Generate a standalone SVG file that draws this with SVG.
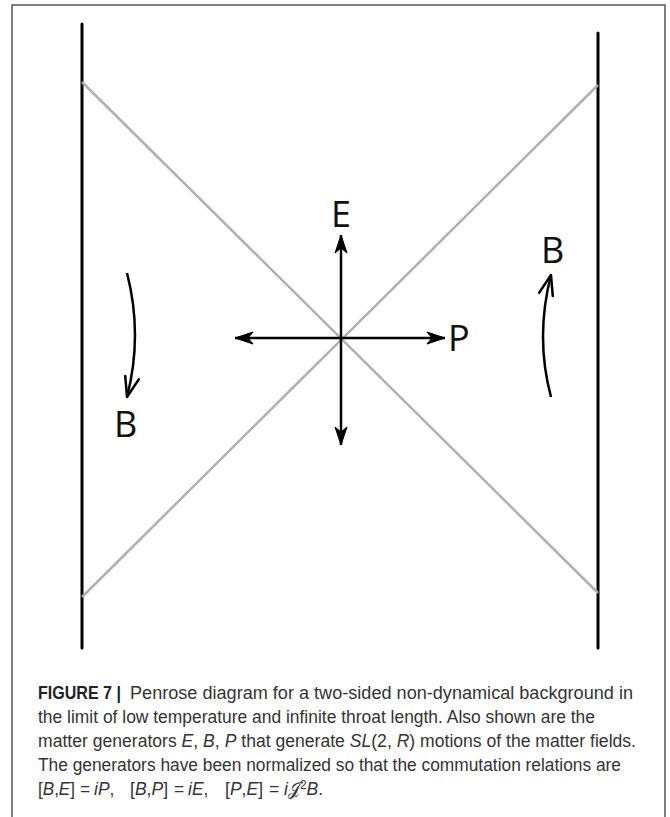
<svg xmlns="http://www.w3.org/2000/svg" width="670" height="817" viewBox="0 0 670 817">
<style>
.frame{fill:none;stroke:#555;stroke-width:1.5}
.wall{stroke:#000;stroke-width:3;stroke-linecap:round}
.horizon{stroke:#b0b0b0;stroke-width:2.5}
.gen{fill:none;stroke:#000;stroke-width:2.5}
.lbl{font-family:"Open Sans","Liberation Sans",sans-serif;font-size:36px;fill:#111}
.cap{font-family:"Liberation Sans","Noto Sans",sans-serif;font-size:17.5px;fill:#333}
.capb{font-weight:bold;fill:#222}
.it{font-style:italic}
</style>
<defs>
<marker id="head" viewBox="-20 -8 22 16" markerWidth="22" markerHeight="16" refX="0" refY="0" orient="auto-start-reverse" markerUnits="userSpaceOnUse">
<path d="M0,0 L-18,-6 L-13,0 L-18,6 Z" fill="#000" stroke="#000" stroke-width="1" stroke-linejoin="round"/>
</marker>
<marker id="open" viewBox="-24 -10 26 20" markerWidth="26" markerHeight="20" refX="0" refY="0" orient="auto" markerUnits="userSpaceOnUse">
<path d="M-20,-7 L0,0 L-20,7" fill="none" stroke="#000" stroke-width="2.5" stroke-linejoin="round" stroke-linecap="round"/>
</marker>
</defs>
<path class="frame" d="M12,817 V5 H665 V817"/>
<g id="boundaries">
<line class="wall" x1="82" y1="24" x2="82" y2="648"/>
<line class="wall" x1="598" y1="33" x2="598" y2="648"/>
</g>
<g id="horizons">
<line class="horizon" x1="82" y1="82" x2="598" y2="593"/>
<line class="horizon" x1="598" y1="85" x2="82" y2="597"/>
</g>
<g id="connectors">
<line class="gen" x1="341" y1="338" x2="341" y2="235" marker-end="url(#head)"/>
<line class="gen" x1="341" y1="338" x2="341" y2="445" marker-end="url(#head)"/>
<line class="gen" x1="341" y1="338" x2="235" y2="338" marker-end="url(#head)"/>
<line class="gen" x1="341" y1="338" x2="445" y2="338" marker-end="url(#head)"/>
<path class="gen" d="M127,273 Q143,335 127,397" marker-end="url(#open)"/>
<path class="gen" d="M551,397 Q535,337 551,275" marker-end="url(#open)"/>
</g>
<g id="node-E"><text class="lbl" x="341" y="227" text-anchor="middle">E</text></g>
<g id="node-P"><text class="lbl" x="448" y="351">P</text></g>
<g id="node-B-left"><text class="lbl" x="114" y="437">B</text></g>
<g id="node-B-right"><text class="lbl" x="541" y="263">B</text></g>
<g id="caption" class="cap">
<text class="capb" x="38" y="699" textLength="83" lengthAdjust="spacingAndGlyphs">FIGURE 7 |</text>
<text x="130" y="699" textLength="503" lengthAdjust="spacingAndGlyphs">Penrose diagram for a two-sided non-dynamical background in</text>
<text x="38" y="723" textLength="557" lengthAdjust="spacingAndGlyphs">the limit of low temperature and infinite throat length. Also shown are the</text>
<text x="38" y="747" textLength="598" lengthAdjust="spacingAndGlyphs">matter generators <tspan class="it">E</tspan>, <tspan class="it">B</tspan>, <tspan class="it">P</tspan> that generate <tspan class="it">SL</tspan>(2, <tspan class="it">R</tspan>) motions of the matter fields.</text>
<text x="38" y="771" textLength="583" lengthAdjust="spacingAndGlyphs">The generators have been normalized so that the commutation relations are</text>
<text x="38" y="795" textLength="37" lengthAdjust="spacingAndGlyphs">[<tspan class="it">B</tspan>,<tspan class="it">E</tspan>]</text>
<text x="80" y="795">=</text>
<text x="94" y="795"><tspan class="it">iP</tspan>,</text>
<text x="130" y="795" textLength="38" lengthAdjust="spacingAndGlyphs">[<tspan class="it">B</tspan>,<tspan class="it">P</tspan>]</text>
<text x="174" y="795">=</text>
<text x="188" y="795"><tspan class="it">iE</tspan>,</text>
<text x="225" y="795" textLength="38" lengthAdjust="spacingAndGlyphs">[<tspan class="it">P</tspan>,<tspan class="it">E</tspan>]</text>
<text x="269" y="795">=</text>
<text x="284" y="795"><tspan class="it">i</tspan>𝒥<tspan dy="-6" font-size="12">2</tspan><tspan dy="6" class="it">B</tspan>.</text>
</g>
</svg>
